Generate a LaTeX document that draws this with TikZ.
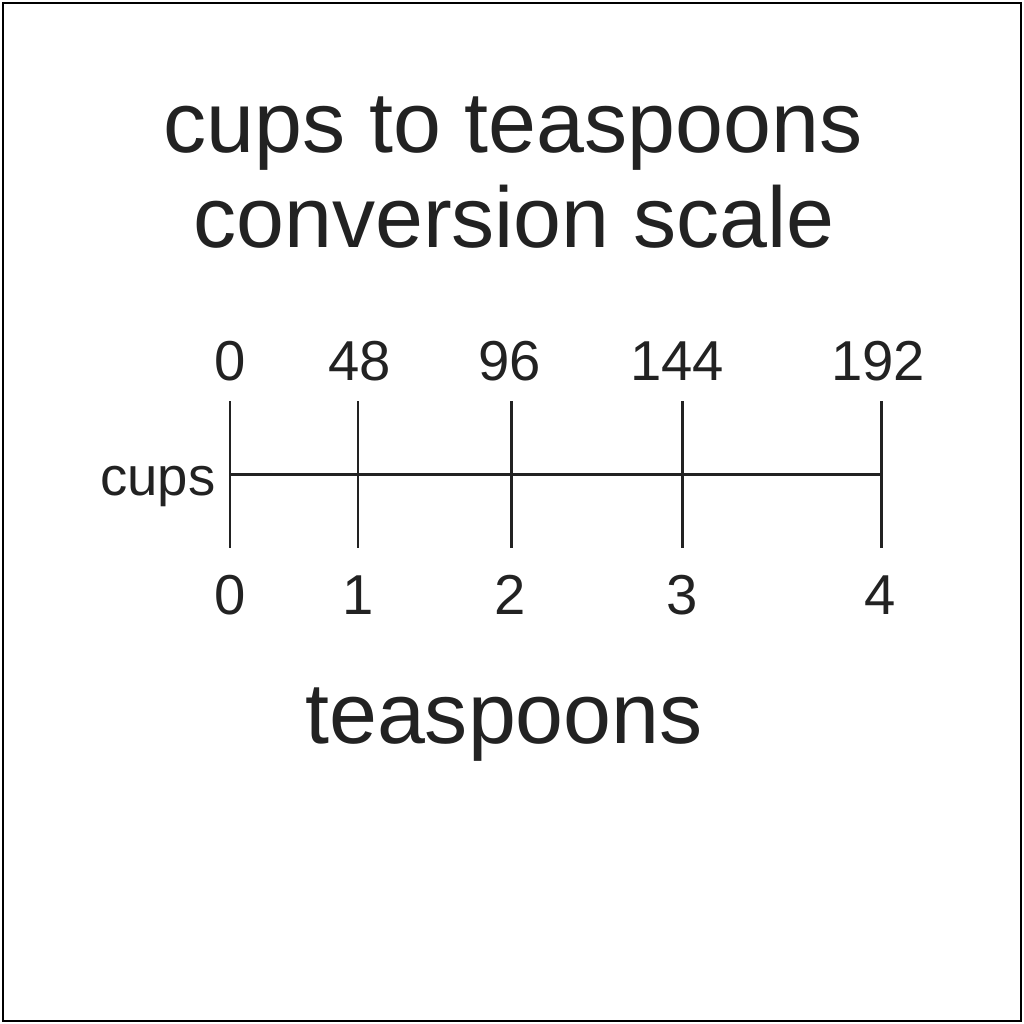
\documentclass[tikz,border=0pt]{standalone}
\usepackage{fontspec}
\setmainfont{Liberation Sans}
\usetikzlibrary{positioning}
\usepackage{xcolor}
\definecolor{ink}{HTML}{222222}

\begin{document}
\begin{tikzpicture}[
            x = 0.01cm, y = -0.01cm,
            title/.style={
                text = ink,
                anchor = base,
                inner sep = 0pt,
                font = \fontsize{24.5}{29}\selectfont
            },
            num/.style={
                text = ink,
                anchor = base,
                inner sep = 0pt,
                font = \fontsize{16}{19}\selectfont
            },
            tickline/.style = {draw = ink, line width = 0.85pt}
        ]
        \useasboundingbox (0,0) rectangle (1024,1024);
        \draw[line width = 0.8pt] (3,3) rectangle (1021,1021);

        \node[title] (title_a) at (513,152) {cups to teaspoons};
        \node[title] (title_b) at (514,247) {conversion scale};

        % tick ends
        \coordinate (top0) at (230,401);  \coordinate (bot0) at (230,548);
        \coordinate (top1) at (358,401);  \coordinate (bot1) at (358,548);
        \coordinate (top2) at (511,401);  \coordinate (bot2) at (511,548);
        \coordinate (top3) at (682,401);  \coordinate (bot3) at (682,548);
        \coordinate (top4) at (881,401);  \coordinate (bot4) at (881,548);
        \coordinate (axis_start) at (230,474);
        \coordinate (axis_end) at (881,474);

        \draw[tickline] (axis_start) -- (axis_end);
        \foreach \i in {0,...,4}
            \draw[tickline] (top\i) -- (bot\i);

        \node[num] (tsp0) at (230,380) {0};
        \node[num] (tsp1) at (360,380) {48};
        \node[num] (tsp2) at (510,380) {96};
        \node[num] (tsp3) at (677,380) {144};
        \node[num] (tsp4) at (878,380) {192};

        \node[num] (cup0) at (230,614) {0};
        \node[num] (cup1) at (358,614) {1};
        \node[num] (cup2) at (510,614) {2};
        \node[num] (cup3) at (682,614) {3};
        \node[num] (cup4) at (880,614) {4};

        \node[num, font = \fontsize{15.5}{19}\selectfont, anchor = base east] (cups_label) at (216,495) {cups};
        \node[title] (tsp_label) at (504,743) {teaspoons};
    \end{tikzpicture}
\end{document}
